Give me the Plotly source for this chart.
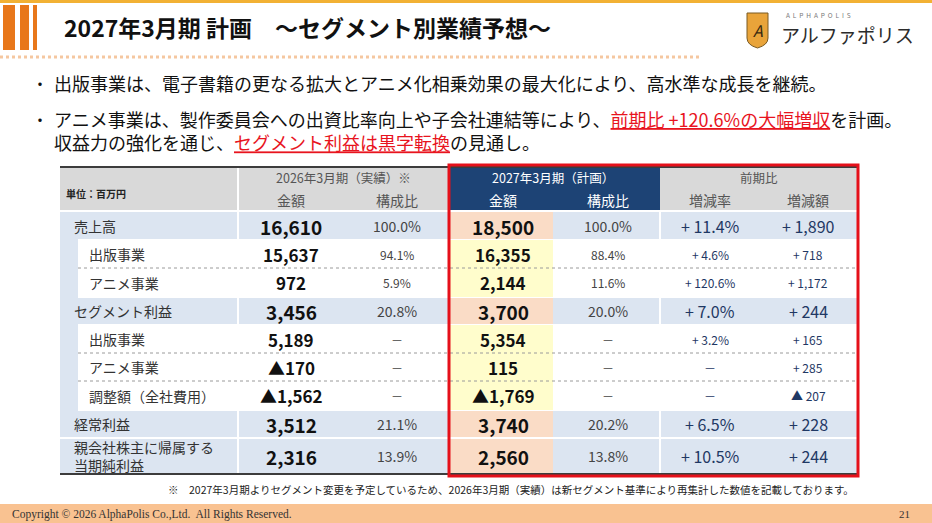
import plotly.graph_objects as go

JP = "Noto Sans CJK JP"

# ---- text / data ----
title = "2027年3月期 計画　～セグメント別業績予想～"
bullet_lines = [
    "出版事業は、電子書籍の更なる拡大とアニメ化相乗効果の最大化により、高水準な成長を継続。",
    "アニメ事業は、製作委員会への出資比率向上や子会社連結等により、"
    "<span style='color:#E8141E'><u>前期比 +120.6%の大幅増収</u></span>を計画。<br>"
    "収益力の強化を通じ、<span style='color:#E8141E'><u>セグメント利益は黒字転換</u></span>の見通し。",
]
footnote = "※　2027年3月期よりセグメント変更を予定しているため、2026年3月期（実績）は新セグメント基準により再集計した数値を記載しております。"
copyright_text = "Copyright © 2026 AlphaPolis Co.,Ltd.  All Rights Reserved."
page_no = "21"

row_labels = ["売上高", "出版事業", "アニメ事業", "セグメント利益", "出版事業", "アニメ事業",
              "調整額（全社費用）", "経常利益", "親会社株主に帰属する<br>当期純利益"]
row_major = [True, False, False, True, False, False, False, True, True]
act_amount = [16610, 15637, 972, 3456, 5189, -170, -1562, 3512, 2316]
act_ratio = [100.0, 94.1, 5.9, 20.8, None, None, None, 21.1, 13.9]
plan_amount = [18500, 16355, 2144, 3700, 5354, 115, -1769, 3740, 2560]
plan_ratio = [100.0, 88.4, 11.6, 20.0, None, None, None, 20.2, 13.8]
yoy_rate = [11.4, 4.6, 120.6, 7.0, 3.2, None, None, 6.5, 10.5]
yoy_amount = [1890, 718, 1172, 244, 165, 285, -207, 228, 244]


def amt(v):
    return "▲" + f"{-v:,}" if v < 0 else f"{v:,}"


def pct(v):
    return "－" if v is None else f"{v:.1f}%"


def diff_pct(v):
    return "－" if v is None else f"+ {v:.1f}%"


def diff_amt(v):
    return f"▲ {-v:,}" if v < 0 else f"+ {v:,}"


# ---- layout constants (pixels) ----
L, R = 60, 858
C_SPLIT1, C_BOX, C_PEACH, C_SPLIT2 = 238, 449, 553, 660
HEAD_TOP, HEAD_BOT = 167, 210
row_edges = [212, 240, 268, 297, 325, 353, 381, 410, 438, 474]
col_x = [291, 397, 503, 608, 710, 808]

BLUE_ROW = "#DCE5F1"
GRAY_HEAD = "#D9D9D9"
NAVY_HEAD = "#1D4375"
PEACH = "#FADCC6"
YELLOW = "#FFFDCC"
NAVY_TXT = "#1F3864"

shapes = []
ann = []


def rect(x0, y0, x1, y1, fill):
    shapes.append(dict(type="rect", xref="x", yref="y", x0=x0, y0=y0, x1=x1, y1=y1,
                       fillcolor=fill, line=dict(width=0), layer="below"))


def line(x0, y0, x1, y1, color, width=1, dash="solid"):
    shapes.append(dict(type="line", xref="x", yref="y", x0=x0, y0=y0, x1=x1, y1=y1,
                       line=dict(color=color, width=width, dash=dash), layer="below"))


def text(x, y, s, size, color="#222", anchor="center", weight="normal", family=JP):
    ann.append(dict(x=x, y=y, xref="x", yref="y", text=s, showarrow=False, xanchor=anchor,
                    yanchor="middle", align="left" if anchor == "left" else "center",
                    font=dict(family=family, size=size, color=color, weight=weight)))


# ---- slide decoration ----
rect(0, 0, 932, 3, "#F2B134")
rect(3, 5, 15, 50, "#E8771A")
rect(20, 5, 29, 50, "#E8771A")
rect(33, 5, 37, 50, "#E8771A")
line(0, 57, 700, 57, "#F5C7A0", 3, "dot")
text(62, 27, title, 23, "#111", "left", "bold")

# logo
shapes.append(dict(type="path", xref="x", yref="y",
                   path="M 747 13 L 768 13 L 768 38 Q 768 45 757.5 48 Q 747 45 747 38 Z",
                   fillcolor="#E9A43A", line=dict(color="#7A5A22", width=1)))
text(757.5, 30, "<i>A</i>", 16, "#3A2A10")
text(784, 15, "A  L  P  H  A  P  O  L  I  S", 6.5, "#777", "left")
text(779, 34, "アルファポリス", 19, "#2B2B2B", "left")

# bullets
for by, s in zip([83, 130.5], bullet_lines):
    text(40, 83 if by == 83 else 119, "・", 16, "#111")
    text(52, by, s, 18, "#111", "left")

# footer
rect(0, 504, 932, 523, "#F9C291")
text(10, 514, copyright_text, 11.5, "#333", "left", family="Liberation Serif")
text(912, 514, page_no, 11, "#333", "right", family="Liberation Serif")
text(856, 489, footnote, 10.5, "#222", "right")

# ---- table header ----
rect(L, HEAD_TOP, C_BOX, HEAD_BOT, GRAY_HEAD)
rect(C_BOX, HEAD_TOP, C_SPLIT2, HEAD_BOT, NAVY_HEAD)
rect(C_SPLIT2, HEAD_TOP, R, HEAD_BOT, GRAY_HEAD)
line(C_SPLIT1, HEAD_TOP, C_SPLIT1, HEAD_BOT, "white", 2)
text(64, 193, "<b>単位：百万円</b>", 10, "#222", "left")
text(343, 177, "2026年3月期（実績）※", 12.5, "#555")
text(col_x[0], 200, "金額", 14, "#555")
text(col_x[1], 200, "構成比", 14, "#555")
text(553, 177, "2027年3月期（計画）", 12.5, "white")
text(col_x[2], 200, "金額", 14, "white")
text(col_x[3], 200, "構成比", 14, "white")
text(759, 177, "前期比", 12.5, "#555")
text(col_x[4], 200, "増減率", 14, "#555")
text(col_x[5], 200, "増減額", 14, "#555")

# ---- table body ----
for i, lab in enumerate(row_labels):
    y0, y1 = row_edges[i], row_edges[i + 1]
    yc = (y0 + y1) / 2
    major = row_major[i]
    if major:
        rect(L, y0 + 1 if i else y0, R, y1 - 1, BLUE_ROW)
        rect(C_BOX, y0 + 1 if i else y0, C_PEACH, y1 - 1, PEACH)
        line(C_SPLIT1, y0, C_SPLIT1, y1, "white", 2)
        line(C_SPLIT2, y0, C_SPLIT2, y1, "white", 2)
        text(72, yc, lab, 14, "#333", "left")
        text(col_x[0], yc, amt(act_amount[i]), 19, "#111", weight=600)
        text(col_x[1], yc, pct(act_ratio[i]), 14, "#444")
        text(col_x[2], yc, amt(plan_amount[i]), 19, "#111", weight=600)
        text(col_x[3], yc, pct(plan_ratio[i]), 14, "#444")
        text(col_x[4], yc, diff_pct(yoy_rate[i]), 16, NAVY_TXT)
        text(col_x[5], yc, diff_amt(yoy_amount[i]), 16, NAVY_TXT)
    else:
        rect(L, y0 - 1, 78, y1 + 1, BLUE_ROW)
        rect(C_BOX, y0, C_PEACH, y1, YELLOW)
        if not row_major[i - 1]:
            line(78, y0, R, y0, "#9A9A9A", 1, "dot")
        text(87, yc, lab, 14, "#333", "left")
        text(col_x[0], yc, amt(act_amount[i]), 17, "#111", weight=600)
        text(col_x[1], yc, pct(act_ratio[i]), 12, "#444")
        text(col_x[2], yc, amt(plan_amount[i]), 17, "#111", weight=600)
        text(col_x[3], yc, pct(plan_ratio[i]), 12, "#444")
        text(col_x[4], yc, diff_pct(yoy_rate[i]), 12, NAVY_TXT)
        text(col_x[5], yc, diff_amt(yoy_amount[i]), 12, NAVY_TXT)

line(L, HEAD_TOP, R, HEAD_TOP, "#3C3C3C", 2)
line(L, row_edges[-1], R, row_edges[-1], "#3C3C3C", 2)

# red highlight box
shapes.append(dict(type="rect", xref="x", yref="y", x0=C_BOX, y0=165, x1=R, y1=476,
                   line=dict(color="#E5101A", width=3), fillcolor="rgba(0,0,0,0)"))

fig = go.Figure()
fig.update_layout(
    width=932, height=523,
    margin=dict(l=0, r=0, t=0, b=0),
    paper_bgcolor="white", plot_bgcolor="white",
    xaxis=dict(range=[0, 932], visible=False, fixedrange=True),
    yaxis=dict(range=[523, 0], visible=False, fixedrange=True),
    shapes=shapes, annotations=ann, showlegend=False,
)
fig.write_html("out.html", config={"displayModeBar": False},
               post_script="document.body.style.margin='0px';document.body.style.overflow='hidden';")
